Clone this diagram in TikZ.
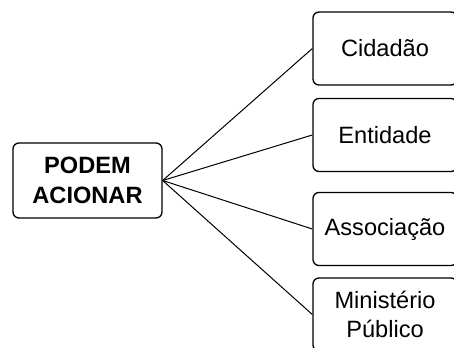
\documentclass[tikz,border=0pt]{standalone}
\usepackage{fontspec}
\setmainfont{Liberation Sans}
\usepackage{tikz}
\usetikzlibrary{positioning}

\begin{document}
\begin{tikzpicture}[x=0.75pt, y=-0.75pt, line width=0.75pt,
  rootbox/.style={draw, line width=1pt, rounded corners=4.5pt, align=center,
    minimum width=111.75pt, minimum height=56.25pt, font=\fontsize{17.7}{22}\selectfont\bfseries},
  leafbox/.style={draw, line width=1pt, rounded corners=4.5pt, align=center,
    minimum width=108pt, minimum height=54.75pt, font=\fontsize{17.7}{22}\selectfont}]

  \clip (0,0) rectangle (454,347);
  \useasboundingbox (0,0) rectangle (454,347);

  \node[rootbox] (acionar) at (87.5, 180.5) {PODEM\\ACIONAR};

  \node[leafbox] (cidadao) at (385, 48.5) {Cidadão};
  \node[leafbox] (entidade) at (385, 135) {Entidade};
  \node[leafbox] (associacao) at (385, 229) {Associação};
  \node[leafbox] (ministerio) at (385, 314.5) {Ministério\\Público};

  \path (acionar.east) edge (cidadao.west);
  \path (acionar.east) edge (entidade.west);
  \path (acionar.east) edge (associacao.west);
  \path (acionar.east) edge (ministerio.west);
\end{tikzpicture}
\end{document}
